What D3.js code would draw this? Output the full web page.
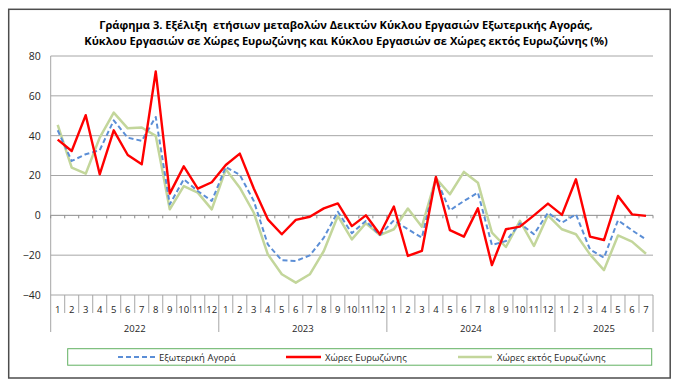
<!DOCTYPE html>
<html>
<head>
<meta charset="utf-8">
<script src="https://cdn.jsdelivr.net/npm/d3@7"></script>
<style>
    body { margin: 0; background: #fff; }
    text { font-family: 'Open Sans', 'Noto Sans', sans-serif; fill: #262626; }
</style>
</head>
<body>
<svg id="chart" width="684" height="387"></svg>
<script>
const years = ['2022', '2023', '2024', '2025'];
const monthsInYear = [12, 12, 12, 7];
const yTicks = [80, 60, 40, 20, 0, -20, -40];

const seriesNames = ['Εξωτερική Αγορά', 'Χώρες Ευρωζώνης', 'Χώρες εκτός Ευρωζώνης'];

// Jan 2022 .. Jul 2025
const externalMarket = [
    42.7, 27.3, 30.7, 32.7, 47.7, 39.0, 37.4, 49.4, 5.5, 18.1, 12.2, 7.2,
    24.3, 20.3, 7.2, -14.6, -22.6, -22.9, -20.1, -11.2, 1.8, -9.0, -2.8, -9.9,
    -2.5, -7.0, -11.2, 18.6, 2.5, 7.2, 11.4, -14.9, -12.9, -4.0, -9.5, 1.3,
    -3.7, 0.5, -17.1, -21.3, -2.5, -7.5, -12.1
];
const euroArea = [
    38.0, 32.3, 50.3, 20.6, 42.7, 30.3, 25.6, 72.2, 10.9, 24.6, 13.4, 16.6,
    25.3, 31.0, 13.5, -2.0, -9.5, -2.3, -0.7, 3.5, 6.0, -5.4, 0.0, -9.5,
    4.4, -20.4, -17.9, 19.3, -7.4, -10.7, 3.5, -25.0, -7.0, -5.7, 0.0, 5.9,
    0.2, 18.1, -10.7, -12.4, 9.7, 0.5, -0.3
];
const nonEuroArea = [
    45.4, 24.0, 20.9, 39.0, 51.6, 43.7, 44.1, 39.9, 3.0, 14.7, 11.4, 3.0,
    23.1, 13.9, 1.3, -19.6, -29.6, -33.8, -29.6, -17.9, -0.3, -12.1, -4.0, -9.9,
    -7.0, 3.4, -5.7, 18.6, 10.6, 21.8, 16.4, -8.7, -15.9, -2.8, -15.4, 0.0,
    -7.0, -9.5, -19.6, -27.5, -10.1, -13.2, -19.3
];

const styles = [
    { color: '#5b8ed6', width: 2, dash: '5,3' },
    { color: '#ff0000', width: 2.4, dash: null },
    { color: '#c3d69b', width: 2.5, dash: null }
];

// month categories built from the year list
let categories = [];
years.forEach((year, yi) => {
    for (let m = 1; m <= monthsInYear[yi]; m++) {
        categories.push({ key: year + '-' + m, month: m, year: year });
    }
});

const svg = d3.select('#chart');

const plot = { left: 50.7, right: 653, top: 56, bottom: 295 };

const x = d3.scaleBand()
    .domain(categories.map(c => c.key))
    .range([plot.left, plot.right])
    .paddingInner(0)
    .paddingOuter(0);

const y = d3.scaleLinear()
    .domain([-40, 80])
    .range([plot.bottom, plot.top]);

// outer frame
svg.append('rect')
    .attr('x', 8.7).attr('y', 9.3)
    .attr('width', 661.5).attr('height', 368.7)
    .attr('fill', '#fff')
    .attr('stroke', '#4d4d4d')
    .attr('stroke-width', 1.5);

// title
const titleLines = [
    { text: 'Γράφημα 3. Εξέλιξη  ετήσιων μεταβολών Δεικτών Κύκλου Εργασιών Εξωτερικής Αγοράς,', y: 28.5, width: 494 },
    { text: 'Κύκλου Εργασιών σε Χώρες Ευρωζώνης και Κύκλου Εργασιών σε Χώρες εκτός Ευρωζώνης (%)', y: 44.5, width: 524 }
];
titleLines.forEach(line => {
    let t = svg.append('text')
        .attr('x', 346)
        .attr('y', line.y)
        .attr('text-anchor', 'middle')
        .style('white-space', 'pre')
        .style('font-weight', 'bold')
        .style('font-size', '12px')
        .style('fill', '#000')
        .text(line.text);
    let measured = t.node().getComputedTextLength();
    t.style('font-size', (12 * line.width / measured).toFixed(2) + 'px');
});

// horizontal gridlines
svg.append('g')
    .selectAll('line')
    .data(yTicks)
    .join('line')
    .attr('x1', plot.left)
    .attr('x2', plot.right)
    .attr('y1', d => y(d))
    .attr('y2', d => y(d))
    .attr('stroke', d => d === 0 ? '#8c8c8c' : '#a6a6a6')
    .attr('stroke-width', 1);

// y axis labels
const yAxis = svg.append('g')
    .attr('transform', `translate(${plot.left},0)`)
    .call(d3.axisLeft(y).tickValues(yTicks).tickSize(0).tickPadding(10));
yAxis.select('.domain').remove();
yAxis.selectAll('text')
    .style('font-size', '10.5px')
    .style('font-family', "'Open Sans', sans-serif")
    .attr('fill', '#262626');

// left axis line
svg.append('line')
    .attr('x1', plot.left).attr('x2', plot.left)
    .attr('y1', plot.top).attr('y2', 332)
    .attr('stroke', '#a6a6a6');

// small ticks on zero line
const boundaries = categories.map(c => x(c.key)).concat([plot.right]);
svg.append('g')
    .selectAll('line')
    .data(boundaries)
    .join('line')
    .attr('x1', d => d).attr('x2', d => d)
    .attr('y1', y(0)).attr('y2', y(0) + 3)
    .attr('stroke', '#8c8c8c');

// month separators and labels
svg.append('g')
    .selectAll('line')
    .data(categories)
    .join('line')
    .attr('x1', d => x(d.key) + x.bandwidth()).attr('x2', d => x(d.key) + x.bandwidth())
    .attr('y1', plot.bottom)
    .attr('y2', d => (d.month === monthsInYear[years.indexOf(d.year)]) ? 332 : 313)
    .attr('stroke', '#a6a6a6');

svg.append('g')
    .selectAll('text')
    .data(categories)
    .join('text')
    .attr('x', d => x(d.key) + x.bandwidth() / 2)
    .attr('y', 312.5)
    .attr('text-anchor', 'middle')
    .style('font-size', '9.5px')
    .text(d => d.month);

// year labels
svg.append('g')
    .selectAll('text')
    .data(years)
    .join('text')
    .attr('x', year => {
        let keys = categories.filter(c => c.year === year).map(c => c.key);
        return (x(keys[0]) + x(keys[keys.length - 1]) + x.bandwidth()) / 2;
    })
    .attr('y', 331.5)
    .attr('text-anchor', 'middle')
    .style('font-size', '9.5px')
    .text(d => d);

// series lines
const seriesData = [externalMarket, euroArea, nonEuroArea];
const line = d3.line()
    .x((d, i) => x(categories[i].key) + x.bandwidth() / 2)
    .y(d => y(d));

// draw green first, then blue, red on top
[2, 0, 1].forEach(s => {
    svg.append('path')
        .datum(seriesData[s])
        .attr('d', line)
        .attr('fill', 'none')
        .attr('stroke', styles[s].color)
        .attr('stroke-width', styles[s].width)
        .attr('stroke-dasharray', styles[s].dash)
        .attr('stroke-linejoin', 'round');
});

// legend
svg.append('rect')
    .attr('x', 67.7).attr('y', 348.7)
    .attr('width', 584).attr('height', 16.5)
    .attr('fill', '#fff')
    .attr('stroke', '#62b162')
    .attr('stroke-width', 1);

const legendItems = [
    { x1: 118, x2: 156, tx: 159 },
    { x1: 286, x2: 321, tx: 325 },
    { x1: 458, x2: 492, tx: 497 }
];
legendItems.forEach((item, s) => {
    svg.append('line')
        .attr('x1', item.x1).attr('x2', item.x2)
        .attr('y1', 357).attr('y2', 357)
        .attr('stroke', styles[s].color)
        .attr('stroke-width', styles[s].width)
        .attr('stroke-dasharray', styles[s].dash);
    svg.append('text')
        .attr('x', item.tx)
        .attr('y', 360.5)
        .style('font-size', '9.5px')
        .text(seriesNames[s]);
});
</script>
</body>
</html>
